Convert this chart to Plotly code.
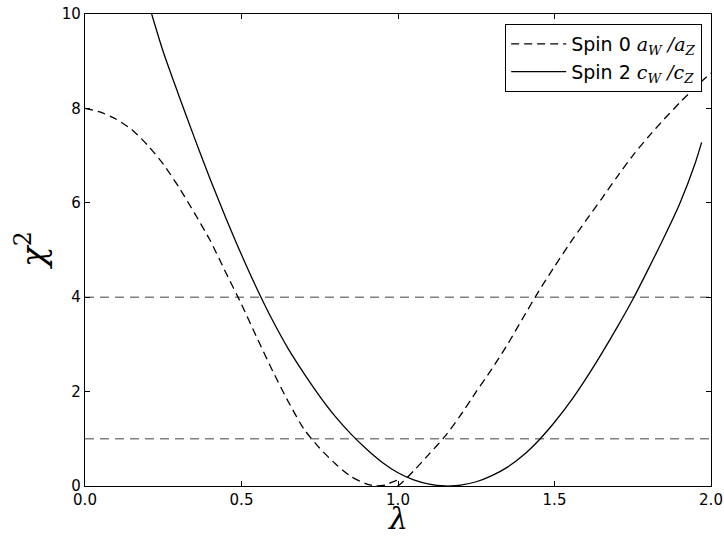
import plotly.graph_objects as go

# Spin 0 (dashed) chi^2 vs lambda
spin0_x = [0.0, 0.05, 0.10, 0.15, 0.20, 0.25, 0.30, 0.35, 0.40, 0.45, 0.50, 0.55, 0.60,
           0.65, 0.70, 0.75, 0.80, 0.85, 0.90, 0.93, 0.96, 0.997, 1.0, 1.05, 1.10, 1.15,
           1.20, 1.25, 1.30, 1.35, 1.40, 1.45, 1.50, 1.55, 1.60, 1.65, 1.70, 1.75, 1.80,
           1.85, 1.90, 1.95, 2.0]
spin0_y = [8.0, 7.92, 7.77, 7.55, 7.22, 6.82, 6.33, 5.78, 5.2, 4.52, 3.85, 3.13, 2.43,
           1.78, 1.2, 0.8, 0.47, 0.2, 0.04, 0.0, 0.02, 0.12, 0.01, 0.32, 0.68, 1.05,
           1.5, 2.0, 2.48, 3.0, 3.57, 4.13, 4.65, 5.15, 5.62, 6.08, 6.55, 7.0, 7.4,
           7.77, 8.12, 8.45, 8.75]

# Spin 2 (solid) chi^2 vs lambda
spin2_x = [0.213, 0.25, 0.30, 0.35, 0.40, 0.45, 0.50, 0.55, 0.60, 0.65, 0.70, 0.75, 0.80,
           0.85, 0.90, 0.95, 1.00, 1.05, 1.10, 1.15, 1.17, 1.20, 1.25, 1.30, 1.35, 1.40,
           1.45, 1.50, 1.55, 1.60, 1.65, 1.70, 1.75, 1.80, 1.85, 1.90, 1.95, 1.97]
spin2_y = [10.0, 9.2, 8.27, 7.37, 6.5, 5.68, 4.9, 4.17, 3.5, 2.9, 2.38, 1.9, 1.47,
           1.1, 0.78, 0.5, 0.28, 0.13, 0.04, 0.0, 0.0, 0.02, 0.09, 0.22, 0.4, 0.65,
           0.97, 1.35, 1.78, 2.27, 2.8, 3.36, 3.95, 4.6, 5.27, 5.98, 6.85, 7.28]

ref_levels = [1, 4]
x_ticks = [0.0, 0.5, 1.0, 1.5, 2.0]
x_ticktext = ["0.0", "0.5", "1.0", "1.5", "2.0"]
y_ticks = [0, 2, 4, 6, 8, 10]

math = "font-family:'DejaVu Serif';font-style:italic"
label0 = ("Spin 0 <span style=\"%s\">a</span><sub><span style=\"%s\">W</span></sub>"
          " <span style=\"%s\">/a</span><sub><span style=\"%s\">Z</span></sub>") % (math, math, math, math)
label2 = ("Spin 2 <span style=\"%s\">c</span><sub><span style=\"%s\">W</span></sub>"
          " <span style=\"%s\">/c</span><sub><span style=\"%s\">Z</span></sub>") % (math, math, math, math)

fig = go.Figure()

for lvl in ref_levels:
    fig.add_trace(go.Scatter(x=[0, 2], y=[lvl, lvl], mode="lines",
                             line=dict(color="#808080", width=1.5, dash="9px,6px"),
                             showlegend=False, hoverinfo="skip"))

fig.add_trace(go.Scatter(x=spin0_x, y=spin0_y, mode="lines", name=label0,
                         line=dict(color="black", width=1.3, dash="8px,5px",
                                   shape="spline", smoothing=0.6)))
fig.add_trace(go.Scatter(x=spin2_x, y=spin2_y, mode="lines", name=label2,
                         line=dict(color="black", width=1.3, shape="spline", smoothing=0.8)))

axis_common = dict(showgrid=False, zeroline=False, showline=True, linecolor="black",
                   linewidth=1.2, mirror="ticks", ticks="inside", ticklen=5,
                   tickcolor="black", automargin=False, ticklabeloverflow="allow",
                   tickfont=dict(family="DejaVu Sans", size=15, color="black"))

fig.update_xaxes(range=[0, 2], tickvals=x_ticks, ticktext=x_ticktext, **axis_common)
fig.update_yaxes(range=[0, 10], tickvals=y_ticks, **axis_common)

# axis titles
fig.add_annotation(text="<i>λ</i>", xref="paper", yref="paper", x=0.5, y=-0.028,
                   xanchor="center", yanchor="top", showarrow=False,
                   font=dict(family="DejaVu Serif", size=30, color="black"))
fig.add_annotation(text="<i>χ</i><sup>2</sup>", xref="paper", yref="paper", x=-0.0863, y=0.5,
                   xanchor="center", yanchor="middle", textangle=-90, showarrow=False,
                   font=dict(family="DejaVu Serif", size=34, color="black"))

fig.update_layout(
    width=724, height=537,
    margin=dict(l=85, r=13, t=14, b=51),
    paper_bgcolor="white", plot_bgcolor="white",
    legend=dict(x=0.9856, y=0.979, xanchor="right", yanchor="top",
                bgcolor="white", bordercolor="black", borderwidth=1.2,
                font=dict(family="DejaVu Sans", size=19, color="black"),
                tracegroupgap=0, itemwidth=55),
    showlegend=True,
)

fig.write_html("out.html", config={"displayModeBar": False},
               post_script="document.body.style.margin='0';")
